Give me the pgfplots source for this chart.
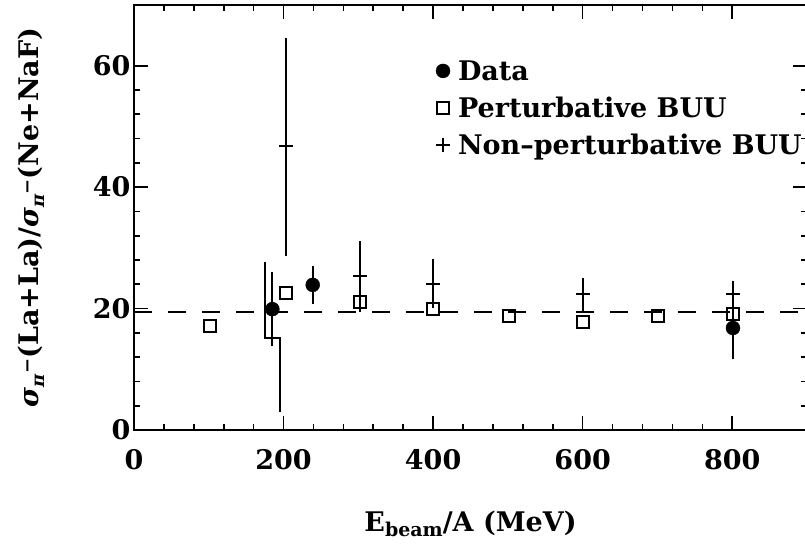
\documentclass[border=0pt]{standalone}
\usepackage{fontspec}
\setmainfont{DejaVu Serif}
\usepackage{pgfplots}
\usepackage{pgfplotstable}
\pgfplotsset{compat=1.18}
\usetikzlibrary{calc}

\newcommand{\bigfont}{\bfseries\fontsize{27}{32}\selectfont}
\newcommand{\sig}{\textit{σ}\raisebox{-0.4ex}{\fontsize{18}{20}\selectfont\textit{π}\raisebox{1.1ex}{−}}}

% measured data
\pgfplotstableread{
x   y    ep   em
185 19.9 6.1  6.0
239 23.9 3.1  3.2
801 16.8 5.1  5.1
}\datatab

\pgfplotstableread{
x   y
101 17.2
203 22.6
302 21.0
400 19.9
501 18.8
601 17.8
701 18.7
801 19.1
}\pertab

\pgfplotstableread{
x   y    ep   em
203 46.8 17.8 18.1
302 25.3 5.8  5.9
400 24.1 4.0  4.0
600 22.4 2.7  3.0
801 22.4 2.2  2.2
}\nptab

\begin{document}
\begin{tikzpicture}
  \begin{axis}[
    scale only axis,
    width=673pt, height=425pt,
    xmin=0, xmax=900, ymin=0, ymax=70,
    xtick={0,200,...,800}, ytick={0,20,40,60},
    minor x tick num=4, minor y tick num=4,
    tick align=inside,
    major tick length=14pt, minor tick length=6pt,
    every tick/.style={black, line width=1.6pt},
    axis line style={line width=2pt},
    tick label style={font=\bigfont},
    xticklabel style={yshift=-16pt},
    /pgf/number format/assume math mode=true,
    label style={font=\bigfont},
    xlabel={E\raisebox{-0.35ex}{\fontsize{19}{20}\selectfont beam}/A (MeV)},
    ylabel={\sig(La+La)/\sig(Ne+NaF)},
    xlabel style={yshift=-34pt},
    ylabel style={yshift=42pt},
    legend style={draw=none, fill=none, at={(0.447,0.875)}, anchor=north west,
      font=\bigfont, row sep=11pt, inner sep=0pt, nodes={inner sep=2pt}},
    legend cell align=left,
    legend image code/.code={\path[draw=none] (-8pt,0pt) -- (13pt,0pt);
      \draw[#1] plot coordinates {(0pt,0pt)};},
    error bars/error bar style={line width=2pt},
    error bars/error mark=none,
  ]
    \addplot[only marks, mark=*, mark size=7pt, black,
      error bars/.cd, y dir=both, y explicit]
      table[x=x, y=y, y error plus=ep, y error minus=em] {\datatab};
    \addplot[only marks, mark=square, mark size=6pt, black,
      mark options={line width=2pt}]
      table[x=x, y=y] {\pertab};
    \addplot[only marks, mark=+, mark size=7pt, black,
      mark options={line width=2pt},
      error bars/.cd, y dir=both, y explicit]
      table[x=x, y=y, y error plus=ep, y error minus=em] {\nptab};
    % stepped error bar of the low-energy non-perturbative point
    \addplot[black, line width=2pt, forget plot]
      coordinates {(175,27.6) (175,15.2) (195,15.2) (195,2.9)};
    % reference line
    \addplot[black, line width=2pt, dash pattern=on 18pt off 16pt, forget plot]
      coordinates {(0,19.5) (900,19.5)};
    \legend{Data, Perturbative BUU, Non–perturbative BUU}
    \coordinate (SW) at (rel axis cs:0,0);
    \coordinate (NE) at (rel axis cs:1,1);
  \end{axis}
  \pgfresetboundingbox
  \path[use as bounding box] ($(SW)+(-134pt,-115pt)$) rectangle ($(NE)+(-2pt,5pt)$);
\end{tikzpicture}
\end{document}
